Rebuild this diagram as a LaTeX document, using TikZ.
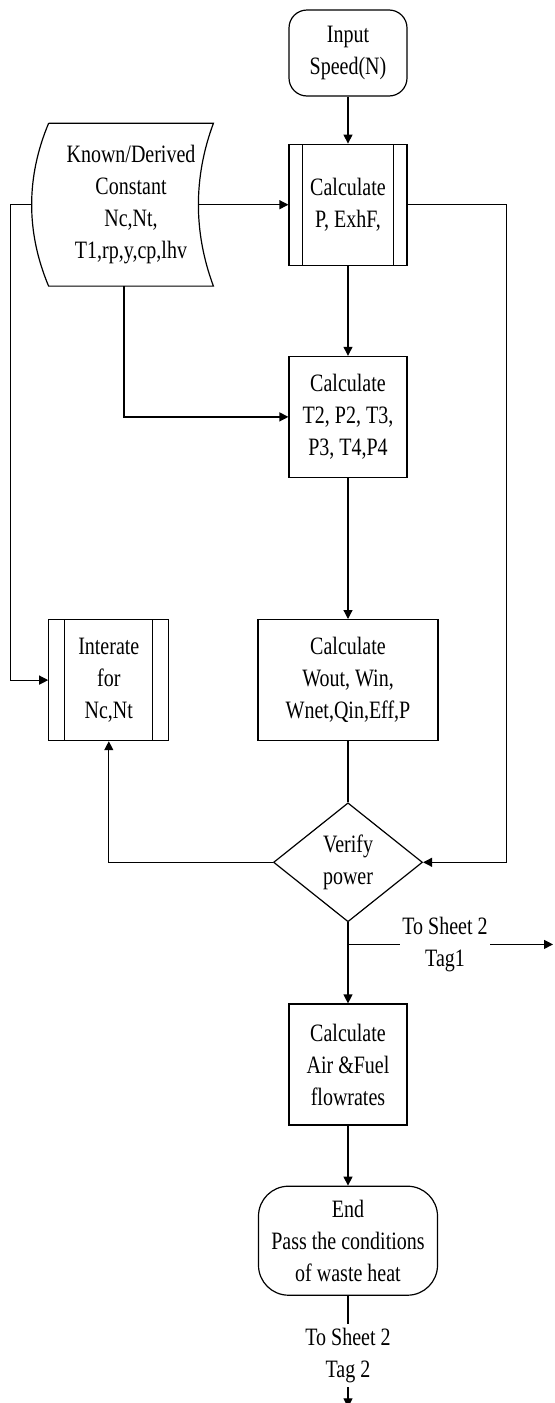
\documentclass[tikz,border=0pt]{standalone}
\usepackage{fontspec}
\setmainfont{Liberation Serif}[FakeStretch=0.8]
\usepackage{tikz}
\usetikzlibrary{arrows.meta,positioning,shapes.geometric}
\newcommand{\txt}{\fontsize{12.5}{16}\selectfont}
\tikzset{
  boite/.style={rectangle, draw, line width=0.6pt, align=center, font=\txt,
                minimum width=59pt, minimum height=60.5pt, inner sep=1pt},
  proc/.style={boite, path picture={
      \draw[line width=0.6pt] ([xshift=#1]path picture bounding box.north west) -- ([xshift=#1]path picture bounding box.south west);
      \draw[line width=0.6pt] ([xshift=-#1]path picture bounding box.north east) -- ([xshift=-#1]path picture bounding box.south east);}},
  termin/.style={rectangle, rounded corners=#1, draw, line width=0.6pt, align=center,
                 font=\txt, inner sep=1pt},
  decis/.style={diamond, draw, line width=0.6pt, align=center, font=\txt, aspect=1.25,
                minimum width=74.5pt, minimum height=59.5pt, inner sep=0pt},
  tag/.style={align=center, font=\txt, inner xsep=1pt, inner ysep=2pt},
  arr/.style={-{Triangle[length=4.5pt,width=4.5pt]}, line width=0.6pt},
  lien/.style={line width=0.6pt},
}
\begin{document}
\begin{tikzpicture}
  \useasboundingbox (0,0) rectangle (277pt,-701.5pt);
  % main column
  \node[termin=9pt, minimum width=59pt, minimum height=43pt] (inp) at (174pt,-26.5pt) {Input\\Speed(N)};
  \node[proc=6.75pt, below=23.5pt of inp] (c1) {Calculate\\P, ExhF,};
  \node[boite, below=45pt of c1] (c2) {Calculate\\T2, P2, T3,\\P3, T4,P4};
  \node[boite, minimum width=90pt, below=70.5pt of c2] (c3) {Calculate\\Wout, Win,\\Wnet,Qin,Eff,P};
  \node[decis, below=30.5pt of c3] (ver) {Verify\\power};
  \node[boite, below=40.5pt of ver] (c4) {Calculate\\Air \&Fuel\\flowrates};
  \node[termin=15pt, minimum width=89.5pt, minimum height=54.5pt, below=30pt of c4] (fin)
    {End\\Pass the conditions\\of waste heat};
  % side nodes
  \node[rectangle, align=center, font=\txt, minimum width=82pt, minimum height=81pt,
        left=37.5pt of c1] (cst) {Known/Derived\\Constant\\Nc,Nt,\\T1,rp,y,cp,lhv};
  \draw[lien] (cst.north west) -- (cst.north east)
    .. controls +(-10pt,-27pt) and +(-10pt,27pt) .. (cst.south east) -- (cst.south west)
    .. controls +(-11.3pt,27pt) and +(-11.3pt,-27pt) .. (cst.north west);
  \node[proc=8pt, minimum width=60pt, left=44pt of c3] (it) {Interate\\for\\Nc,Nt};
  % off-sheet tags
  \coordinate[below=11pt of ver] (br);
  \node[tag, right=26pt of br] (t1) {To Sheet 2\\Tag1};
  \coordinate[right=102.5pt of br] (o1);
  \node[tag, below=14pt of fin] (t2) {To Sheet 2\\Tag 2};
  \coordinate[below=10pt of t2] (o2);
  % connectors
  \draw[arr] (inp) -- (c1);
  \draw[arr] (c1) -- (c2);
  \draw[arr] (c2) -- (c3);
  \draw[lien] (c3) -- (ver);
  \draw[arr] (ver) -- (c4);
  \draw[arr] (c4) -- (fin);
  \draw[arr] ([xshift=-7.5pt]cst.east) -- (c1.west);
  \draw[arr] ([xshift=-3.5pt]cst.south) |- (c2.west);
  \draw[arr] ([xshift=-8.5pt]cst.west) -- ++(-10.5pt,0) |- (it.west);
  \draw[arr] (c1.east) -- ++(49.5pt,0) |- (ver.east);
  \draw[arr] (ver.west) -| (it.south);
  \draw[lien] (br) -- (t1.west);
  \draw[arr] (t1.east) -- (o1);
  \draw[lien] (fin) -- (t2);
  \draw[arr] (t2) -- (o2);
\end{tikzpicture}
\end{document}
